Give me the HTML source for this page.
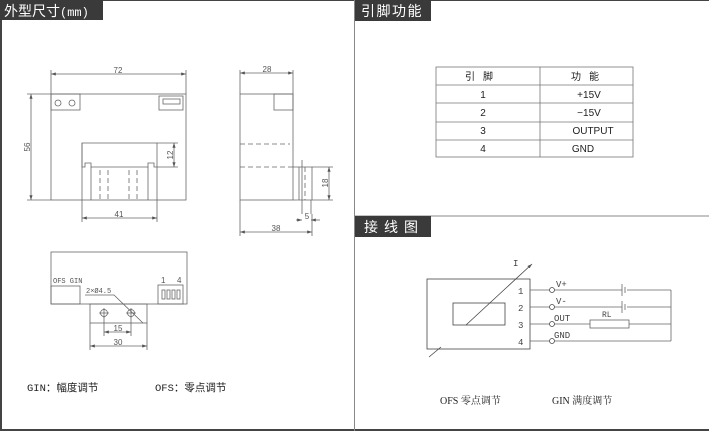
<!DOCTYPE html>
<html><head><meta charset="utf-8"><style>
html,body{margin:0;padding:0;background:#fff;}
svg{display:block;}
text{font-family:"Liberation Sans","Noto Sans CJK SC",sans-serif;}
.d{stroke:#666;stroke-width:0.8;fill:none;}
.dm{font-size:8px;fill:#555;}
.dash{stroke:#666;stroke-width:0.8;stroke-dasharray:5 3;fill:none;}
.mono{font-family:"Liberation Mono","Noto Sans CJK SC",monospace;}
.serif{font-family:"Liberation Serif","Noto Serif CJK SC",serif;}
</style></head><body>
<svg width="709" height="431" viewBox="0 0 709 431" xmlns="http://www.w3.org/2000/svg">
<defs>
<marker id="a" markerWidth="6" markerHeight="4" refX="6" refY="2" orient="auto-start-reverse"><path d="M0,0L6,2L0,4z" fill="#555"/></marker>
</defs>
<rect x="0" y="0" width="709" height="431" fill="#fff"/>
<line x1="0" y1="0.5" x2="709" y2="0.5" stroke="#444" stroke-width="1"/>
<line x1="1" y1="0" x2="1" y2="431" stroke="#444" stroke-width="2"/>
<line x1="0" y1="430" x2="709" y2="430" stroke="#444" stroke-width="2"/>
<line x1="354.5" y1="0" x2="354.5" y2="431" stroke="#888" stroke-width="1"/>
<line x1="354" y1="216" x2="709" y2="216" stroke="#888" stroke-width="1"/>
<rect x="0" y="0" width="103" height="20" fill="#3a3a3a"/>
<text x="4" y="16" font-size="14" fill="#fff">外型尺寸<tspan class="mono" font-size="12">(mm)</tspan></text>
<rect x="355" y="0" width="76" height="21" fill="#3a3a3a"/>
<text x="361" y="16" font-size="14" fill="#fff" letter-spacing="1.5">引脚功能</text>
<rect x="355" y="216" width="76" height="21" fill="#3a3a3a"/>
<text x="364" y="232" font-size="14" fill="#fff" letter-spacing="6">接线图</text>

<g stroke="#777" stroke-width="0.8" fill="none">
<rect x="436" y="67" width="197" height="90"/>
<line x1="540" y1="67" x2="540" y2="157"/>
<line x1="436" y1="85" x2="633" y2="85"/>
<line x1="436" y1="103" x2="633" y2="103"/>
<line x1="436" y1="122" x2="633" y2="122"/>
<line x1="436" y1="140" x2="633" y2="140"/>
</g>
<g font-size="10" fill="#222" text-anchor="middle">
<text x="483" y="80" letter-spacing="8">引脚</text>
<text x="589" y="80" letter-spacing="8">功能</text>
<text x="483" y="98">1</text><text x="589" y="98">+15V</text>
<text x="483" y="116">2</text><text x="589" y="116">−15V</text>
<text x="483" y="134">3</text><text x="593" y="134">OUTPUT</text>
<text x="483" y="152">4</text><text x="583" y="152">GND</text>
</g>

<g class="d">
<rect x="51" y="94" width="135" height="106"/>
<rect x="51" y="94" width="29" height="16"/>
<circle cx="58" cy="103" r="3"/><circle cx="72" cy="103" r="3"/>
<rect x="159" y="96" width="24" height="14"/>
<rect x="163" y="99" width="17" height="5"/>
<path d="M82,200V143H157V200"/>
<path d="M82,143V167H85V163H91V167H148V163H154V167H157"/>
<line x1="91" y1="167" x2="91" y2="200"/><line x1="148" y1="167" x2="148" y2="200"/>
<line x1="51" y1="70" x2="51" y2="94"/><line x1="186" y1="70" x2="186" y2="94"/>
<line x1="51" y1="74" x2="186" y2="74" marker-start="url(#a)" marker-end="url(#a)"/>
<line x1="27" y1="94" x2="51" y2="94"/><line x1="27" y1="200" x2="51" y2="200"/>
<line x1="31" y1="94" x2="31" y2="200" marker-start="url(#a)" marker-end="url(#a)"/>
<line x1="157" y1="143" x2="178" y2="143"/><line x1="157" y1="167" x2="178" y2="167"/>
<line x1="174" y1="143" x2="174" y2="167" marker-start="url(#a)" marker-end="url(#a)"/>
<line x1="82" y1="200" x2="82" y2="222"/><line x1="157" y1="200" x2="157" y2="222"/>
<line x1="82" y1="218" x2="157" y2="218" marker-start="url(#a)" marker-end="url(#a)"/>
</g>
<g class="dash">
<line x1="100" y1="170" x2="100" y2="200"/><line x1="108" y1="170" x2="108" y2="200"/>
<line x1="129" y1="170" x2="129" y2="200"/><line x1="137" y1="170" x2="137" y2="200"/>
</g>
<text class="dm" x="118" y="73" text-anchor="middle">72</text>
<text class="dm" x="119" y="217" text-anchor="middle">41</text>
<text class="dm" transform="translate(30,147) rotate(-90)" text-anchor="middle">56</text>
<text class="dm" transform="translate(173,155) rotate(-90)" text-anchor="middle">12</text>

<g class="d">
<rect x="240" y="94" width="53" height="106"/>
<rect x="274" y="94" width="19" height="16"/>
<path d="M293,167H312V200H293"/>
<line x1="299" y1="167" x2="299" y2="200"/>
<line x1="302" y1="160" x2="302" y2="214"/>
<line x1="311" y1="200" x2="311" y2="214"/>
<line x1="240" y1="70" x2="240" y2="94"/><line x1="293" y1="70" x2="293" y2="94"/>
<line x1="240" y1="73" x2="293" y2="73" marker-start="url(#a)" marker-end="url(#a)"/>
<line x1="312" y1="167" x2="333" y2="167"/><line x1="312" y1="200" x2="333" y2="200"/>
<line x1="329" y1="167" x2="329" y2="200" marker-start="url(#a)" marker-end="url(#a)"/>
<line x1="296" y1="220" x2="302" y2="220" marker-end="url(#a)"/>
<line x1="311" y1="220" x2="320" y2="220" marker-start="url(#a)"/>
<line x1="240" y1="200" x2="240" y2="236"/><line x1="312" y1="214" x2="312" y2="236"/>
<line x1="240" y1="232" x2="312" y2="232" marker-start="url(#a)" marker-end="url(#a)"/>
</g>
<g class="dash">
<line x1="240" y1="144" x2="290" y2="144"/>
<line x1="240" y1="167" x2="293" y2="167"/>
<line x1="305" y1="167" x2="305" y2="200"/>
</g>
<text class="dm" x="267" y="72" text-anchor="middle">28</text>
<text class="dm" x="276" y="231" text-anchor="middle">38</text>
<text class="dm" x="307" y="219" text-anchor="middle" font-size="7">5</text>
<text class="dm" transform="translate(328,183) rotate(-90)" text-anchor="middle">18</text>

<g class="d">
<rect x="51" y="252" width="136" height="52"/>
<rect x="51" y="286" width="29" height="18"/>
<rect x="158" y="285" width="25" height="19"/>
<rect x="162" y="290" width="3" height="9"/><rect x="167" y="290" width="3" height="9"/>
<rect x="172" y="290" width="3" height="9"/><rect x="177" y="290" width="3" height="9"/>
<rect x="90" y="304" width="57" height="19"/>
<circle cx="104" cy="313" r="3.5"/><circle cx="131" cy="313" r="3.5"/>
<path d="M99,313h10M104,308v10M126,313h10M131,308v10"/>
<path d="M85,295H114L143,323"/>
<line x1="104" y1="316" x2="104" y2="336"/><line x1="131" y1="316" x2="131" y2="336"/>
<line x1="104" y1="332" x2="131" y2="332" marker-start="url(#a)" marker-end="url(#a)"/>
<line x1="90" y1="323" x2="90" y2="350"/><line x1="147" y1="323" x2="147" y2="350"/>
<line x1="90" y1="346" x2="147" y2="346" marker-start="url(#a)" marker-end="url(#a)"/>
</g>
<text class="dm mono" x="53" y="283" style="font-size:7px">OFS GIN</text>
<text class="dm" x="161" y="283" font-size="7">1</text>
<text class="dm" x="177" y="283" font-size="7">4</text>
<text class="dm mono" x="86" y="293" style="font-size:7px">2×Ø4.5</text>
<text class="dm" x="118" y="331" text-anchor="middle">15</text>
<text class="dm" x="118" y="345" text-anchor="middle">30</text>

<text class="mono" x="27" y="391" font-size="10.5" fill="#222">GIN：幅度调节</text>
<text class="mono" x="155" y="391" font-size="10.5" fill="#222">OFS：零点调节</text>

<g stroke="#444" stroke-width="0.8" fill="none">
<rect x="427" y="279" width="103" height="70"/>
<rect x="453" y="303" width="52" height="22"/>
<line x1="466" y1="325" x2="532" y2="264" marker-end="url(#a)"/>
<line x1="429" y1="357" x2="441" y2="347"/>
<g stroke="#666">
<path d="M530,290H549M555,290H622M627,290H671"/>
<path d="M530,307H549M555,307H622M627,307H671"/>
<path d="M530,324H549M555,324H590M629,324H671"/>
<path d="M530,341H549M555,341H671"/>
<line x1="671" y1="290" x2="671" y2="341"/>
<line x1="622" y1="284" x2="622" y2="296"/><line x1="625" y1="287" x2="625" y2="293"/>
<line x1="622" y1="301" x2="622" y2="313"/><line x1="625" y1="304" x2="625" y2="310"/>
<rect x="590" y="320" width="39" height="8"/>
</g>
<circle cx="552" cy="290" r="2.5" fill="#fff"/>
<circle cx="552" cy="307" r="2.5" fill="#fff"/>
<circle cx="552" cy="324" r="2.5" fill="#fff"/>
<circle cx="552" cy="341" r="2.5" fill="#fff"/>
</g>
<g font-size="9" fill="#444">
<text class="mono" x="513" y="266">I</text>
<text class="mono" x="518" y="294">1</text><text class="mono" x="518" y="311">2</text>
<text class="mono" x="518" y="328">3</text><text class="mono" x="518" y="345">4</text>
<text class="mono" x="556" y="287">V+</text><text class="mono" x="556" y="304">V-</text>
<text class="mono" x="554" y="321">OUT</text><text class="mono" x="554" y="338">GND</text>
<text class="mono" x="602" y="317" font-size="8">RL</text>
</g>
<text class="serif" x="440" y="404" font-size="10" fill="#222">OFS  零点调节</text>
<text class="serif" x="552" y="404" font-size="10" fill="#222">GIN  满度调节</text>
</svg>
</body></html>
